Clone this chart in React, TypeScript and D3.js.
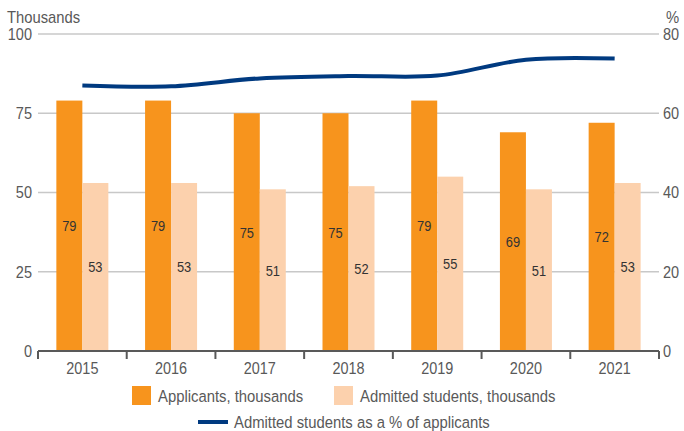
import React from "react";
import * as d3 from "d3";

const years = ["2015", "2016", "2017", "2018", "2019", "2020", "2021"];
const applicants = [79, 79, 75, 75, 79, 69, 72];
const admitted = [53, 53, 51, 52, 55, 51, 53];
const admittedPct = [67, 66.8, 68.8, 69.4, 69.5, 73.5, 73.8];
const leftTicks = [0, 25, 50, 75, 100];
const rightTicks = [0, 20, 40, 60, 80];

const W = 684;
const H = 431;
const FONT = "'Liberation Sans', Arial, sans-serif";
const ORANGE = "#F7941D";
const PEACH = "#FCD1AD";
const NAVY = "#003A80";
const GRAY = "#595959";

function T(props: {
  x: number;
  y: number;
  fs: number;
  sx: number;
  anchor?: "start" | "middle" | "end";
  fill?: string;
  children: React.ReactNode;
}) {
  const { x, y, fs, sx, anchor = "start", fill = GRAY, children } = props;
  return (
    <g transform={`translate(${x},${y}) scale(${sx},1)`}>
      <text x={0} y={0} dy="0.35em" textAnchor={anchor} fontSize={fs} fill={fill}>
        {children}
      </text>
    </g>
  );
}

export default function App() {
  const left = 38, right = 659, top = 34, bottom = 351;
  const x = d3.scaleBand().domain(years).range([left, right]).paddingInner(0).paddingOuter(0);
  const bw = 26;
  const yL = d3.scaleLinear().domain([0, 100]).range([bottom, top]);
  const yR = d3.scaleLinear().domain([0, 80]).range([bottom, top]);
  const cx = (y: string) => (x(y) as number) + x.bandwidth() / 2;
  const line = d3
    .line<number>()
    .x((_, i) => cx(years[i]))
    .y((d) => yR(d))
    .curve(d3.curveCatmullRom.alpha(0.5));
  const boundaries = [...years.map((y) => x(y) as number), right];

  return (
    <div style={{ position: "absolute", left: 0, top: 0 }}>
      <svg width={W} height={H} style={{ display: "block", fontFamily: FONT }}>
        <rect width={W} height={H} fill="#fff" />
        {leftTicks.slice(1).map((t) => (
          <line key={t} x1={left} x2={right} y1={yL(t)} y2={yL(t)} stroke="#C8C8C8" strokeWidth={1.5} />
        ))}
        {leftTicks.map((t) => (
          <T key={t} x={32} y={yL(t)} fs={16.5} sx={0.88} anchor="end">{t}</T>
        ))}
        {rightTicks.map((t) => (
          <T key={t} x={663} y={yR(t)} fs={16.5} sx={0.88}>{t}</T>
        ))}
        <T x={7} y={17} fs={17} sx={0.87}>Thousands</T>
        <T x={666} y={17} fs={17} sx={0.87}>%</T>
        {years.map((y, i) => (
          <g key={y}>
            <rect x={cx(y) - bw} y={yL(applicants[i])} width={bw} height={bottom - yL(applicants[i])} fill={ORANGE} />
            <rect x={cx(y)} y={yL(admitted[i])} width={bw} height={bottom - yL(admitted[i])} fill={PEACH} />
            <T x={cx(y) - bw / 2} y={(yL(applicants[i]) + bottom) / 2} fs={15.5} sx={0.83} anchor="middle" fill="#333">
              {applicants[i]}
            </T>
            <T x={cx(y) + bw / 2} y={(yL(admitted[i]) + bottom) / 2} fs={15.5} sx={0.83} anchor="middle" fill="#333">
              {admitted[i]}
            </T>
            <T x={cx(y)} y={368} fs={17} sx={0.85} anchor="middle">
              {y}
            </T>
          </g>
        ))}
        <line x1={left} x2={right} y1={bottom} y2={bottom} stroke={GRAY} strokeWidth={2} />
        {boundaries.map((b, i) => (
          <line key={i} x1={b} x2={b} y1={bottom} y2={bottom + 8} stroke={GRAY} strokeWidth={2} />
        ))}
        <path d={line(admittedPct) || ""} fill="none" stroke={NAVY} strokeWidth={4} />
        <rect x={132} y={386} width={19} height={19} fill={ORANGE} />
        <T x={158} y={396} fs={16.5} sx={0.9}>Applicants, thousands</T>
        <rect x={334} y={386} width={19} height={19} fill={PEACH} />
        <T x={360} y={396} fs={16.5} sx={0.9}>Admitted students, thousands</T>
        <line x1={198} x2={228} y1={422} y2={422} stroke={NAVY} strokeWidth={4} />
        <T x={234} y={422} fs={16.5} sx={0.9}>Admitted students as a % of applicants</T>
      </svg>
    </div>
  );
}
